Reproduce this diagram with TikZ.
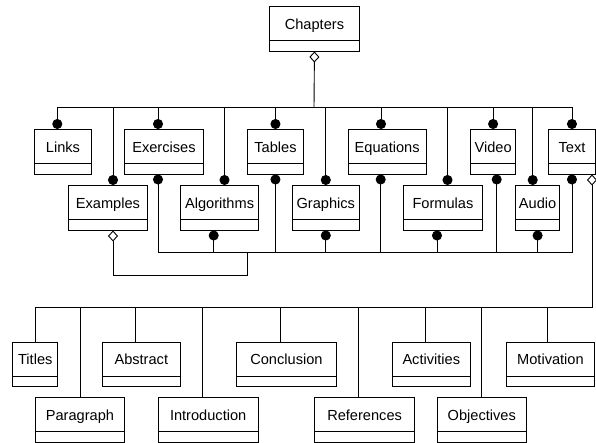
\documentclass[tikz,border=0pt]{standalone}
\usepackage{fontspec}
\setmainfont{Liberation Sans}
\usetikzlibrary{shapes.multipart,arrows.meta,calc}

\begin{document}
\begin{tikzpicture}[x=1pt,y=-1pt,line width=0.9pt,
        cls/.style={draw,rectangle split,rectangle split parts=2,anchor=north west,
            inner xsep=0pt,inner ysep=0pt,rectangle split empty part height=9.8pt,
            font=\fontsize{14.6}{17}\selectfont,
            execute at begin node={\rule[-10.8pt]{0pt}{33pt}}},
        ball/.style={-{Circle[length=10pt]}},
        agg/.style={{Diamond[open,length=11pt,width=10pt]}-}]
    \useasboundingbox (0,0) rectangle (596,443);
    \path   node[cls,minimum width=90] (chapters) at (269,6) {Chapters}
            node[cls,minimum width=57] (links) at (34,129) {Links}
            node[cls,minimum width=78.4] (exercises) at (124.3,129) {Exercises}
            node[cls,minimum width=56.6] (tables) at (246.7,129) {Tables}
            node[cls,minimum width=78] (equations) at (347.7,129) {Equations}
            node[cls,minimum width=45.3] (video) at (470,129) {Video}
            node[cls,minimum width=47] (txt) at (548,129) {Text}
            node[cls,minimum width=78.4] (examples) at (68.3,185) {Examples}
            node[cls,minimum width=78.3] (algorithms) at (180,185) {Algorithms}
            node[cls,minimum width=67.3] (graphics) at (291.7,185) {Graphics}
            node[cls,minimum width=78.4] (formulas) at (403.3,185) {Formulas}
            node[cls,minimum width=44.3] (audio) at (515,185) {Audio}
            node[cls,minimum width=45] (titles) at (12.3,341.7) {Titles}
            node[cls,minimum width=78.3] (abstract) at (101.7,341.7) {Abstract}
            node[cls,minimum width=100] (conclusion) at (236,341.7) {Conclusion}
            node[cls,minimum width=78.3] (activities) at (391.7,341.7) {Activities}
            node[cls,minimum width=88] (motivation) at (506,341.7) {Motivation}
            node[cls,minimum width=89] (paragraph) at (35,397.3) {Paragraph}
            node[cls,minimum width=100] (introduction) at (157.7,397.3) {Introduction}
            node[cls,minimum width=100.3] (references) at (314,397.3) {References}
            node[cls,minimum width=89.3] (objectives) at (436.7,397.3) {Objectives};
    \coordinate (topbus) at (314,107);
    \coordinate (lowbus) at (247,252.3);
    \coordinate (textbus) at (592,307);
    % chapters
    \draw[agg] (chapters.south) -- (topbus);
    \draw[ball] (topbus) -| ($(links.north west)+(23.3,0)$);
    \draw[ball] (topbus) -| ($(exercises.north west)+(33.7,0)$);
    \draw[ball] (topbus) -| (tables.north);
    \draw[ball] (topbus) -| ($(equations.north west)+(33.3,0)$);
    \draw[ball] (topbus) -| (video.north);
    \draw[ball] (topbus) -| (txt.north);
    \draw[ball] (topbus) -| ($(examples.north west)+(44.7,0)$);
    \draw[ball] (topbus) -| ($(algorithms.north west)+(44.5,0)$);
    \draw[ball] (topbus) -| (graphics.north);
    \draw[ball] (topbus) -| ($(formulas.north west)+(44.2,0)$);
    \draw[ball] (topbus) -| ($(audio.north west)+(17.7,0)$);
    % examples
    \draw[agg] ($(examples.south west)+(44.7,0)$) |- ([yshift=-22.7pt]lowbus) -- (lowbus);
    \draw[ball] (lowbus) -| ($(exercises.south west)+(33.7,0)$);
    \draw[ball] (lowbus) -| (tables.south);
    \draw[ball] (lowbus) -| ($(equations.south west)+(33,0)$);
    \draw[ball] (lowbus) -| ($(video.south west)+(26.7,0)$);
    \draw[ball] (lowbus) -| (txt.south);
    \draw[ball] (lowbus) -| ($(algorithms.south west)+(33.7,0)$);
    \draw[ball] (lowbus) -| (graphics.south);
    \draw[ball] (lowbus) -| ($(formulas.south west)+(33.7,0)$);
    \draw[ball] (lowbus) -| (audio.south);
    % text
    \draw[agg] ($(txt.south west)+(44,0)$) -- (textbus) -| ($(titles.north west)+(22.7,0)$);
    \draw (textbus) -| ($(paragraph.north west)+(45,0)$);
    \draw (textbus) -| ($(abstract.north west)+(33.6,0)$);
    \draw (textbus) -| ($(introduction.north west)+(44.6,0)$);
    \draw (textbus) -| ($(conclusion.north west)+(44,0)$);
    \draw (textbus) -| ($(references.north west)+(44.3,0)$);
    \draw (textbus) -| ($(activities.north west)+(34,0)$);
    \draw (textbus) -| ($(objectives.north west)+(45,0)$);
    \draw (textbus) -| ($(motivation.north west)+(41.7,0)$);
\end{tikzpicture}
\end{document}
